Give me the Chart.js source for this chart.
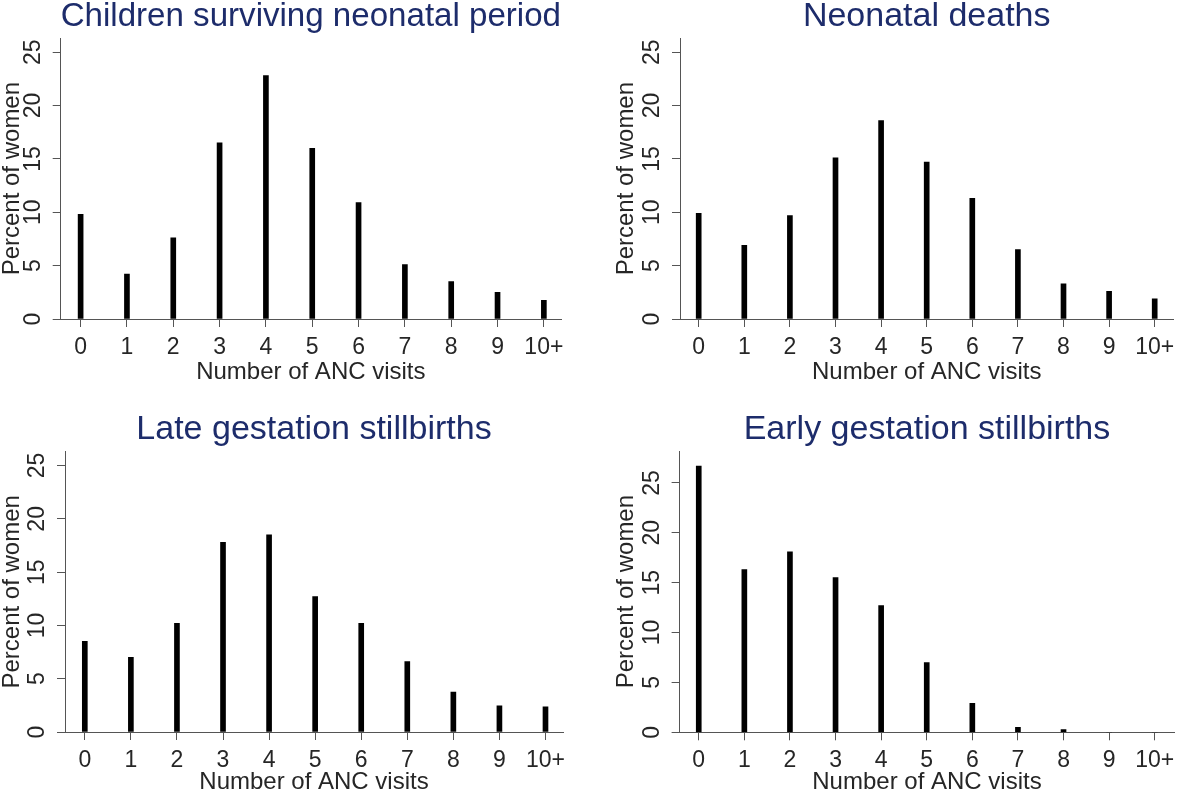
<!DOCTYPE html>
<html lang="en">
<head>
<meta charset="UTF-8">
<title>ANC visits by birth outcome</title>
<script src="https://cdn.jsdelivr.net/npm/chart.js"></script>
<style>
  html, body {
    margin: 0;
    padding: 0;
    background: #fff;
    overflow: hidden;
  }
  body {
    position: relative;
    width: 1181px;
    height: 795px;
  }
  .panel {
    position: absolute;
  }
</style>
</head>
<body>
<div class="panel"><canvas id="c1"></canvas></div>
<div class="panel"><canvas id="c2"></canvas></div>
<div class="panel"><canvas id="c3"></canvas></div>
<div class="panel"><canvas id="c4"></canvas></div>
<script>
// data (percent of women by number of ANC visits)
const visitLabels = ['0', '1', '2', '3', '4', '5', '6', '7', '8', '9', '10+'];
const survivingValues = [9.8, 4.2, 7.6, 16.5, 22.8, 16.0, 10.9, 5.1, 3.5, 2.5, 1.75];
const neonatalDeathValues = [9.9, 6.9, 9.7, 15.1, 18.6, 14.7, 11.3, 6.5, 3.3, 2.6, 1.9];
const lateStillbirthValues = [8.5, 7.0, 10.2, 17.8, 18.5, 12.7, 10.2, 6.6, 3.75, 2.45, 2.35];
const earlyStillbirthValues = [26.7, 16.3, 18.1, 15.5, 12.7, 7.0, 2.9, 0.5, 0.27, 0, 0];
const panelTitles = [
  'Children surviving neonatal period',
  'Neonatal deaths',
  'Late gestation stillbirths',
  'Early gestation stillbirths'
];
const yTickValues = [0, 5, 10, 15, 20, 25];

const FONT = '"Liberation Sans", Arial, sans-serif';
const NAVY = '#1d2c6b';
const INK = '#262626';
const AXIS = '#555';
const TITLE_SIZE = 34;
const LABEL_SIZE = 24;

// where each panel sits on the page (pixels)
const panels = [
  { id: 'c1', title: panelTitles[0], values: survivingValues, box: [0, 0, 590, 398],
    yMax: 26.3, xMin: -0.43, xMax: 10.37, labelX: 12, plotLeft: 60.7, plotRight: 561,
    titleMid: 17, plotTop: 38.3, plotBottom: 319, xTitleMid: 372 },
  { id: 'c2', title: panelTitles[1], values: neonatalDeathValues, box: [590, 0, 591, 398],
    yMax: 26.3, xMin: -0.41, xMax: 10.41, labelX: 626, plotLeft: 680, plotRight: 1178,
    titleMid: 17, plotTop: 38.3, plotBottom: 319, xTitleMid: 372 },
  { id: 'c3', title: panelTitles[2], values: lateStillbirthValues, box: [0, 398, 590, 397],
    yMax: 26.3, xMin: -0.43, xMax: 10.38, labelX: 12, plotLeft: 65, plotRight: 563,
    titleMid: 429.5, plotTop: 451.7, plotBottom: 732, xTitleMid: 782 },
  { id: 'c4', title: panelTitles[3], values: earlyStillbirthValues, box: [590, 398, 591, 397],
    yMax: 28.2, xMin: -0.42, xMax: 10.43, labelX: 626, plotLeft: 679.6, plotRight: 1180,
    titleMid: 429.5, plotTop: 451, plotBottom: 732.3, xTitleMid: 782 }
];

function buildPanel(p) {
  const [cx, cy, cw, ch] = p.box;
  const holder = document.getElementById(p.id).parentElement;
  holder.style.left = cx + 'px';
  holder.style.top = cy + 'px';
  holder.style.width = cw + 'px';
  holder.style.height = ch + 'px';

  // turn the measured positions into paddings and axis sizes
  const half = LABEL_SIZE / 2;
  const titleHalf = TITLE_SIZE / 2;
  const padLeft = p.labelX - half - cx;
  const yAxisWidth = p.plotLeft - (p.labelX - half);
  const padRight = cx + cw - p.plotRight;
  const padTop = p.titleMid - titleHalf - cy;
  const titleGap = p.plotTop - p.titleMid - titleHalf;
  const contentBottom = p.xTitleMid + half;
  const padBottom = cy + ch - contentBottom;
  const xAxisHeight = contentBottom - p.plotBottom;

  return new Chart(document.getElementById(p.id), {
    type: 'bar',
    data: {
      datasets: [{
        data: visitLabels.map((_, i) => ({ x: i, y: p.values[i] })),
        backgroundColor: '#000',
        borderWidth: 0,
        barThickness: 5
      }]
    },
    options: {
      responsive: true,
      maintainAspectRatio: false,
      animation: false,
      layout: { padding: { left: padLeft, right: padRight, top: padTop, bottom: padBottom } },
      plugins: {
        legend: { display: false },
        tooltip: { enabled: false },
        title: {
          display: true,
          text: p.title,
          fullSize: false,
          color: NAVY,
          font: { family: FONT, size: TITLE_SIZE, weight: 'normal', lineHeight: 1 },
          padding: { top: 0, bottom: titleGap }
        }
      },
      scales: {
        x: {
          type: 'linear',
          min: p.xMin,
          max: p.xMax,
          offset: false,
          afterBuildTicks: s => { s.ticks = visitLabels.map((_, i) => ({ value: i })); },
          afterFit: s => { s.height = xAxisHeight; },
          grid: { offset: false, drawOnChartArea: false, drawTicks: true, tickLength: 8, color: AXIS },
          border: { color: AXIS, width: 1 },
          ticks: {
            autoSkip: false, maxRotation: 0, padding: 6.5, color: INK,
            font: { family: FONT, size: 23 },
            callback: v => visitLabels[v]
          },
          title: {
            display: true, text: 'Number of ANC visits', color: INK,
            font: { family: FONT, size: LABEL_SIZE, lineHeight: 1 }, padding: 0
          }
        },
        y: {
          min: 0,
          max: p.yMax,
          afterBuildTicks: s => { s.ticks = yTickValues.map(v => ({ value: v })); },
          afterFit: s => { s.width = yAxisWidth; },
          grid: { drawOnChartArea: false, drawTicks: true, tickLength: 8, color: AXIS },
          border: { color: AXIS, width: 1 },
          ticks: {
            autoSkip: false, minRotation: 90, maxRotation: 90, crossAlign: 'center',
            padding: 6.2, color: INK, font: { family: FONT, size: 23 }
          },
          title: {
            display: true, text: 'Percent of women', color: INK,
            font: { family: FONT, size: LABEL_SIZE, lineHeight: 1 }, padding: 0
          }
        }
      }
    }
  });
}

panels.forEach(buildPanel);
</script>
</body>
</html>
